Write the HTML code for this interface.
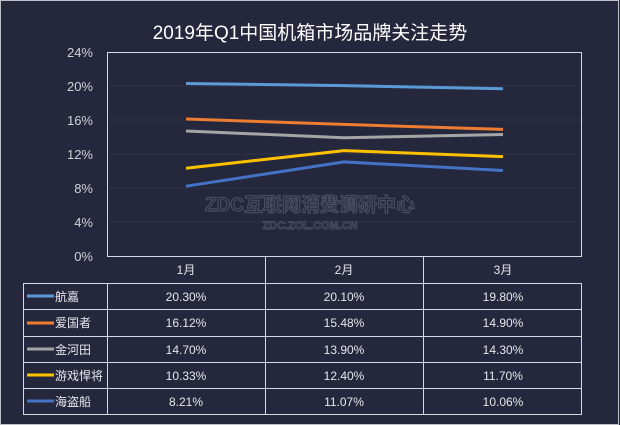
<!DOCTYPE html>
<html><head><meta charset="utf-8"><style>
body{margin:0;background:#25273d;}
svg{display:block;font-family:"Liberation Sans","Noto Sans CJK SC",sans-serif;}
</style></head><body>
<svg width="620" height="425" viewBox="0 0 620 425">
<rect x="0" y="0" width="620" height="425" fill="#25273d"/>
<rect x="0.5" y="0.5" width="618" height="424" fill="none" stroke="#bfc0c8" stroke-width="1"/>
<text x="310" y="39" fill="#ffffff" font-size="19" text-anchor="middle">2019年Q1中国机箱市场品牌关注走势</text>
<!-- grid -->
<g stroke="#3a3d55" stroke-width="1" stroke-dasharray="1,1">
<line x1="107" y1="86" x2="582" y2="86"/><line x1="107" y1="120" x2="582" y2="120"/>
<line x1="107" y1="154" x2="582" y2="154"/><line x1="107" y1="188" x2="582" y2="188"/>
<line x1="107" y1="222" x2="582" y2="222"/>
</g>
<g fill="#d0d1d8" font-size="13" text-anchor="end">
<text x="93" y="57">24%</text><text x="93" y="91">20%</text><text x="93" y="125">16%</text>
<text x="93" y="159">12%</text><text x="93" y="193">8%</text><text x="93" y="227">4%</text><text x="93" y="261">0%</text>
</g>
<!-- watermark -->
<text x="310" y="211" fill="none" stroke="#4a4c62" stroke-width="1.2" font-size="19" font-weight="bold" text-anchor="middle">ZDC互联网消费调研中心</text>
<text x="310" y="229" fill="none" stroke="#4a4c62" stroke-width="0.9" font-size="11" font-weight="bold" text-anchor="middle">ZDC.ZOL.COM.CN</text>
<!-- lines -->
<g fill="none" stroke-width="3">
<polyline stroke="#5b9bd5" points="186,83.5 344,85.6 503,88.7"/>
<polyline stroke="#ed7d31" points="186,119 344,124.4 503,129.4"/>
<polyline stroke="#a5a5a5" points="186,131 344,137.8 503,134.5"/>
<polyline stroke="#ffc000" points="186,168.2 344,150.6 503,156.6"/>
<polyline stroke="#4472c4" points="186,186.2 344,161.9 503,170.5"/>
</g>
<!-- plot & table borders -->
<g stroke="#d8d9e0" stroke-width="1" fill="none">
<rect x="107.5" y="52.5" width="474" height="204"/>
<line x1="107.5" y1="283.5" x2="581.5" y2="283.5"/>
<line x1="265.5" y1="256.5" x2="265.5" y2="414.5"/>
<line x1="423.5" y1="256.5" x2="423.5" y2="414.5"/>
<rect x="23.5" y="283.5" width="558" height="131"/>
<line x1="107.5" y1="283.5" x2="107.5" y2="414.5"/>
<line x1="23.5" y1="309.5" x2="581.5" y2="309.5"/>
<line x1="23.5" y1="336.5" x2="581.5" y2="336.5"/>
<line x1="23.5" y1="362.5" x2="581.5" y2="362.5"/>
<line x1="23.5" y1="388.5" x2="581.5" y2="388.5"/>
</g>
<g fill="#e6e7ec" font-size="12" text-anchor="middle">
<text x="186" y="274">1月</text><text x="344" y="274">2月</text><text x="503" y="274">3月</text>
<text x="186" y="301">20.30%</text><text x="344" y="301">20.10%</text><text x="503" y="301">19.80%</text>
<text x="186" y="327">16.12%</text><text x="344" y="327">15.48%</text><text x="503" y="327">14.90%</text>
<text x="186" y="354">14.70%</text><text x="344" y="354">13.90%</text><text x="503" y="354">14.30%</text>
<text x="186" y="380">10.33%</text><text x="344" y="380">12.40%</text><text x="503" y="380">11.70%</text>
<text x="186" y="406">8.21%</text><text x="344" y="406">11.07%</text><text x="503" y="406">10.06%</text>
</g>
<g stroke-width="3">
<line x1="27" y1="296" x2="54" y2="296" stroke="#5b9bd5"/>
<line x1="27" y1="323" x2="54" y2="323" stroke="#ed7d31"/>
<line x1="27" y1="349" x2="54" y2="349" stroke="#a5a5a5"/>
<line x1="27" y1="375" x2="54" y2="375" stroke="#ffc000"/>
<line x1="27" y1="401" x2="54" y2="401" stroke="#4472c4"/>
</g>
<g fill="#e6e7ec" font-size="12">
<text x="55" y="301">航嘉</text><text x="55" y="327">爱国者</text><text x="55" y="354">金河田</text>
<text x="55" y="380">游戏悍将</text><text x="55" y="406">海盗船</text>
</g>
</svg>
</body></html>
